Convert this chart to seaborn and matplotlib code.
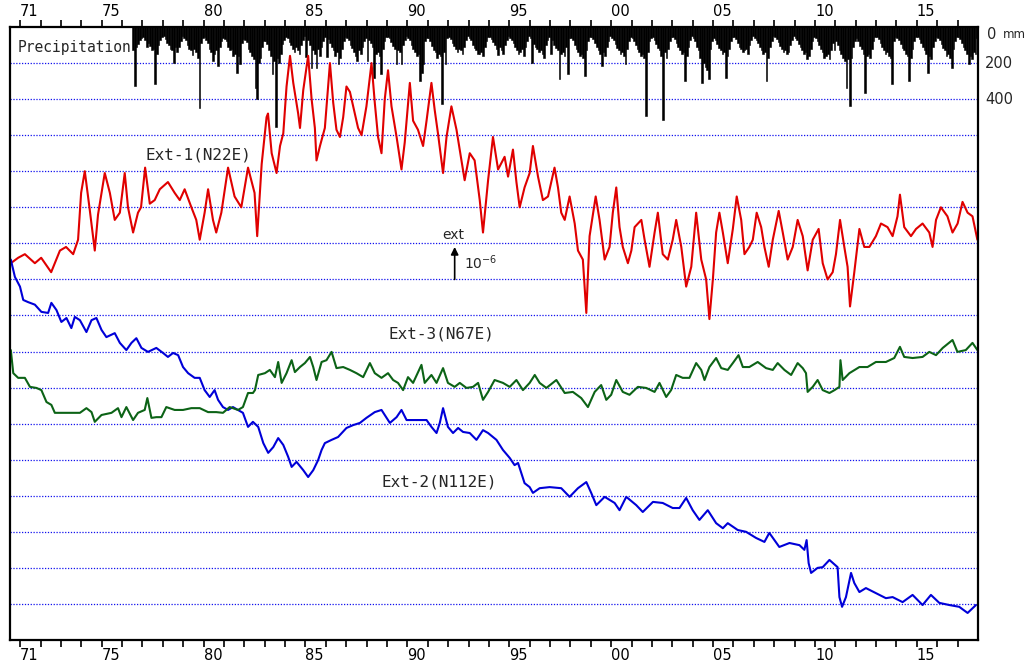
import numpy as np
import pandas as pd
import matplotlib
matplotlib.use("Agg")
import matplotlib.pyplot as plt
import seaborn as sns
from matplotlib.transforms import blended_transform_factory

# ---------------- data (strain in units of 1e-6, offset; precipitation in mm) ----------------
ext1_pts = [
    (1970.54, 10.45), (1970.90, 10.6), (1971.23, 10.7), (1971.72, 10.45), (1972.03, 10.6),
    (1972.52, 10.2), (1972.95, 10.8), (1973.25, 10.9), (1973.60, 10.7), (1973.84, 11.1),
    (1973.99, 12.4), (1974.17, 13.0), (1974.42, 11.9), (1974.66, 10.8), (1974.82, 11.8),
    (1975.15, 12.95), (1975.40, 12.4), (1975.64, 11.65), (1975.89, 11.85), (1976.13, 12.95),
    (1976.29, 12.0), (1976.54, 11.3), (1976.78, 11.85), (1976.93, 12.0), (1977.13, 13.1),
    (1977.36, 12.1), (1977.60, 12.2), (1977.85, 12.5), (1978.25, 12.7), (1978.58, 12.4),
    (1978.83, 12.2), (1979.07, 12.5), (1979.40, 12.0), (1979.64, 11.65), (1979.81, 11.1),
    (1980.05, 11.85), (1980.22, 12.5), (1980.46, 11.65), (1980.62, 11.3), (1980.87, 11.85),
    (1981.20, 13.1), (1981.52, 12.3), (1981.85, 12.0), (1982.18, 13.1), (1982.50, 12.4),
    (1982.63, 11.2), (1982.85, 13.2), (1983.09, 14.5), (1983.16, 14.6), (1983.34, 13.5),
    (1983.58, 12.95), (1983.75, 13.7), (1983.91, 14.05), (1984.07, 15.35), (1984.24, 16.2),
    (1984.40, 15.45), (1984.64, 14.6), (1984.73, 14.2), (1984.89, 15.25), (1985.13, 16.2),
    (1985.30, 15.0), (1985.46, 14.2), (1985.54, 13.3), (1985.71, 13.7), (1985.95, 14.2),
    (1986.20, 16.0), (1986.36, 14.9), (1986.52, 14.15), (1986.69, 13.95), (1986.85, 14.5),
    (1987.01, 15.35), (1987.18, 15.2), (1987.42, 14.6), (1987.58, 14.2), (1987.75, 14.0),
    (1987.99, 14.8), (1988.24, 16.0), (1988.40, 14.9), (1988.56, 13.95), (1988.73, 13.5),
    (1988.89, 15.0), (1989.05, 15.8), (1989.22, 14.8), (1989.47, 13.95), (1989.71, 13.05),
    (1989.87, 13.8), (1990.12, 15.45), (1990.28, 14.4), (1990.52, 14.15), (1990.77, 13.7),
    (1990.94, 14.4), (1991.18, 15.45), (1991.34, 14.7), (1991.50, 14.05), (1991.75, 12.95),
    (1991.92, 13.95), (1992.16, 14.8), (1992.41, 14.15), (1992.65, 13.3), (1992.81, 12.75),
    (1993.06, 13.5), (1993.30, 13.3), (1993.55, 12.2), (1993.71, 11.3), (1993.96, 12.75),
    (1994.20, 13.95), (1994.45, 13.05), (1994.77, 13.4), (1994.94, 12.85), (1995.18, 13.6),
    (1995.35, 12.7), (1995.51, 12.0), (1995.75, 12.55), (1996.00, 12.95), (1996.16, 13.7),
    (1996.41, 12.85), (1996.65, 12.2), (1996.90, 12.3), (1997.22, 13.1), (1997.39, 12.55),
    (1997.55, 11.85), (1997.72, 11.65), (1997.96, 12.3), (1998.21, 11.55), (1998.37, 10.8),
    (1998.61, 10.55), (1998.78, 9.07), (1998.94, 11.2), (1999.24, 12.3), (1999.43, 11.65),
    (1999.68, 10.55), (1999.92, 10.9), (2000.08, 11.85), (2000.25, 12.55), (2000.41, 11.45),
    (2000.57, 10.9), (2000.82, 10.45), (2000.99, 10.8), (2001.15, 11.45), (2001.48, 11.65),
    (2001.64, 11.1), (2001.88, 10.35), (2002.13, 11.3), (2002.29, 11.85), (2002.53, 10.7),
    (2002.78, 10.55), (2003.02, 11.1), (2003.19, 11.65), (2003.44, 10.9), (2003.68, 9.8),
    (2003.93, 10.35), (2004.17, 11.85), (2004.42, 10.55), (2004.66, 10.0), (2004.82, 8.9),
    (2004.99, 10.0), (2005.15, 11.3), (2005.31, 11.85), (2005.48, 11.3), (2005.72, 10.45),
    (2005.97, 11.4), (2006.16, 12.3), (2006.38, 11.65), (2006.54, 10.7), (2006.78, 10.9),
    (2006.95, 11.1), (2007.14, 11.85), (2007.36, 11.45), (2007.52, 10.9), (2007.73, 10.35),
    (2007.93, 11.1), (2008.22, 11.9), (2008.42, 11.3), (2008.66, 10.55), (2008.91, 10.9),
    (2009.15, 11.65), (2009.40, 11.2), (2009.64, 10.25), (2009.89, 11.1), (2010.18, 11.4),
    (2010.38, 10.45), (2010.62, 10.0), (2010.87, 10.2), (2011.03, 10.7), (2011.23, 11.65),
    (2011.44, 10.9), (2011.60, 10.35), (2011.72, 9.25), (2011.93, 10.2), (2012.18, 11.4),
    (2012.42, 10.9), (2012.67, 10.9), (2012.99, 11.2), (2013.24, 11.55), (2013.56, 11.45),
    (2013.81, 11.2), (2014.05, 11.75), (2014.17, 12.35), (2014.38, 11.45), (2014.71, 11.2),
    (2014.96, 11.4), (2015.28, 11.55), (2015.61, 11.3), (2015.77, 10.9), (2015.94, 11.65),
    (2016.18, 12.0), (2016.50, 11.75), (2016.75, 11.3), (2017.00, 11.55), (2017.24, 12.15),
    (2017.49, 11.85), (2017.73, 11.75), (2017.97, 11.1),
]

ext2_pts = [
    (1970.54, 10.55), (1970.74, 10.07), (1970.99, 9.8), (1971.15, 9.43), (1971.39, 9.37),
    (1971.72, 9.3), (1972.04, 9.1), (1972.37, 9.07), (1972.53, 9.35), (1972.78, 9.15),
    (1973.02, 8.82), (1973.27, 8.93), (1973.51, 8.65), (1973.68, 8.96), (1973.93, 8.87),
    (1974.25, 8.54), (1974.50, 8.87), (1974.74, 8.93), (1974.99, 8.6), (1975.23, 8.4),
    (1975.64, 8.51), (1975.89, 8.24), (1976.21, 8.04), (1976.46, 8.24), (1976.70, 8.37),
    (1976.95, 8.1), (1977.27, 7.99), (1977.68, 8.1), (1978.01, 7.96), (1978.25, 7.85),
    (1978.50, 7.96), (1978.75, 7.9), (1978.99, 7.57), (1979.24, 7.4), (1979.56, 7.27),
    (1979.81, 7.27), (1980.05, 6.93), (1980.30, 6.74), (1980.54, 6.93), (1980.71, 6.66),
    (1980.95, 6.46), (1981.20, 6.38), (1981.44, 6.46), (1981.69, 6.38), (1981.93, 6.3),
    (1982.18, 5.91), (1982.42, 6.05), (1982.68, 5.91), (1982.93, 5.46), (1983.17, 5.19),
    (1983.42, 5.35), (1983.66, 5.6), (1983.91, 5.41), (1984.15, 5.08), (1984.32, 4.8),
    (1984.56, 4.94), (1984.89, 4.71), (1985.13, 4.52), (1985.38, 4.71), (1985.62, 4.99),
    (1985.79, 5.27), (1985.95, 5.46), (1986.28, 5.55), (1986.60, 5.63), (1987.01, 5.88),
    (1987.34, 5.96), (1987.67, 6.02), (1987.99, 6.16), (1988.40, 6.32), (1988.73, 6.38),
    (1988.98, 6.16), (1989.14, 6.02), (1989.47, 6.18), (1989.71, 6.38), (1989.96, 6.1),
    (1990.28, 6.1), (1990.61, 6.1), (1990.94, 6.1), (1991.18, 5.91), (1991.43, 5.74),
    (1991.59, 6.02), (1991.75, 6.43), (1991.99, 5.91), (1992.24, 5.74), (1992.49, 5.88),
    (1992.73, 5.77), (1993.06, 5.74), (1993.39, 5.55), (1993.71, 5.82), (1993.96, 5.74),
    (1994.37, 5.55), (1994.69, 5.27), (1995.02, 5.05), (1995.26, 4.85), (1995.43, 4.91),
    (1995.59, 4.63), (1995.75, 4.35), (1996.00, 4.24), (1996.16, 4.08), (1996.49, 4.21),
    (1996.98, 4.24), (1997.55, 4.21), (1997.96, 3.97), (1998.37, 4.21), (1998.78, 4.38),
    (1999.02, 4.08), (1999.27, 3.74), (1999.68, 3.97), (2000.17, 3.8), (2000.41, 3.6),
    (2000.74, 3.97), (2001.23, 3.74), (2001.55, 3.55), (2002.05, 3.83), (2002.53, 3.8),
    (2003.02, 3.66), (2003.35, 3.66), (2003.68, 3.94), (2004.00, 3.6), (2004.33, 3.33),
    (2004.74, 3.6), (2005.15, 3.24), (2005.48, 3.1), (2005.72, 3.24), (2006.21, 3.05),
    (2006.62, 3.0), (2007.11, 2.83), (2007.52, 2.72), (2007.76, 2.97), (2008.25, 2.58),
    (2008.75, 2.69), (2009.24, 2.63), (2009.48, 2.5), (2009.59, 2.77), (2009.69, 2.13),
    (2009.81, 1.86), (2010.13, 2.0), (2010.38, 2.02), (2010.71, 2.22), (2011.11, 2.02),
    (2011.20, 1.19), (2011.33, 0.92), (2011.52, 1.19), (2011.77, 1.86), (2011.93, 1.58),
    (2012.18, 1.33), (2012.50, 1.44), (2012.99, 1.3), (2013.48, 1.16), (2013.81, 1.19),
    (2014.30, 1.05), (2014.79, 1.25), (2015.28, 0.97), (2015.69, 1.25), (2016.10, 1.03),
    (2016.59, 0.97), (2017.08, 0.92), (2017.49, 0.75), (2017.90, 0.97),
]

ext3_pts = [
    (1970.54, 8.04), (1970.66, 7.4), (1970.90, 7.27), (1971.23, 7.27), (1971.48, 7.02),
    (1971.80, 6.99), (1972.04, 6.93), (1972.29, 6.6), (1972.53, 6.52), (1972.70, 6.3),
    (1973.02, 6.3), (1973.51, 6.3), (1973.93, 6.3), (1974.25, 6.43), (1974.50, 6.32),
    (1974.66, 6.05), (1974.99, 6.24), (1975.48, 6.3), (1975.80, 6.43), (1975.97, 6.18),
    (1976.21, 6.46), (1976.54, 6.1), (1976.78, 6.3), (1977.11, 6.38), (1977.24, 6.71),
    (1977.44, 6.16), (1977.68, 6.18), (1977.93, 6.18), (1978.17, 6.46), (1978.58, 6.38),
    (1978.99, 6.38), (1979.40, 6.43), (1979.81, 6.43), (1980.22, 6.32), (1980.62, 6.32),
    (1980.95, 6.3), (1981.28, 6.46), (1981.69, 6.38), (1981.93, 6.46), (1982.18, 6.85),
    (1982.42, 6.85), (1982.52, 6.93), (1982.68, 7.35), (1983.01, 7.4), (1983.25, 7.49),
    (1983.50, 7.29), (1983.66, 7.71), (1983.83, 7.13), (1984.07, 7.4), (1984.32, 7.76),
    (1984.48, 7.43), (1984.73, 7.57), (1984.97, 7.68), (1985.22, 7.85), (1985.38, 7.57),
    (1985.54, 7.21), (1985.79, 7.71), (1986.03, 7.76), (1986.28, 7.99), (1986.52, 7.54),
    (1986.85, 7.57), (1987.18, 7.49), (1987.50, 7.4), (1987.83, 7.29), (1988.16, 7.68),
    (1988.40, 7.4), (1988.73, 7.27), (1989.05, 7.4), (1989.30, 7.21), (1989.54, 7.13),
    (1989.79, 6.93), (1990.03, 7.29), (1990.28, 7.13), (1990.69, 7.63), (1990.85, 7.13),
    (1991.18, 7.35), (1991.43, 7.13), (1991.75, 7.54), (1991.99, 7.13), (1992.32, 7.02),
    (1992.57, 7.13), (1992.90, 6.99), (1993.22, 7.02), (1993.47, 7.13), (1993.71, 6.66),
    (1993.96, 6.88), (1994.28, 7.21), (1994.69, 7.13), (1995.02, 7.02), (1995.35, 7.21),
    (1995.67, 6.93), (1996.00, 7.13), (1996.25, 7.35), (1996.49, 7.13), (1996.82, 6.99),
    (1997.31, 7.21), (1997.72, 6.85), (1998.12, 6.88), (1998.53, 6.71), (1998.86, 6.46),
    (1999.19, 6.88), (1999.51, 7.07), (1999.76, 6.66), (2000.00, 6.8), (2000.25, 7.21),
    (2000.57, 6.88), (2000.90, 6.8), (2001.31, 7.02), (2001.72, 6.99), (2002.13, 6.88),
    (2002.37, 7.13), (2002.70, 6.74), (2002.94, 6.93), (2003.19, 7.35), (2003.51, 7.27),
    (2003.84, 7.27), (2004.17, 7.68), (2004.42, 7.49), (2004.58, 7.21), (2004.82, 7.57),
    (2005.15, 7.82), (2005.40, 7.54), (2005.72, 7.49), (2005.97, 7.68), (2006.25, 7.9),
    (2006.46, 7.57), (2006.78, 7.57), (2007.19, 7.71), (2007.60, 7.54), (2007.93, 7.49),
    (2008.17, 7.68), (2008.50, 7.49), (2008.83, 7.35), (2009.15, 7.68), (2009.40, 7.54),
    (2009.56, 7.4), (2009.64, 6.88), (2009.89, 7.02), (2010.13, 7.21), (2010.38, 6.93),
    (2010.71, 6.85), (2010.96, 6.93), (2011.20, 7.02), (2011.25, 7.76), (2011.36, 7.21),
    (2011.69, 7.4), (2012.18, 7.57), (2012.58, 7.57), (2012.99, 7.71), (2013.48, 7.71),
    (2013.89, 7.82), (2014.17, 8.13), (2014.38, 7.85), (2014.79, 7.82), (2015.28, 7.85),
    (2015.61, 7.99), (2015.94, 7.9), (2016.27, 8.1), (2016.75, 8.32), (2016.99, 7.99),
    (2017.40, 8.04), (2017.73, 8.24), (2017.97, 8.04),
]

# monthly precipitation (mm), starting July 1976
precip_start = 1976.5
precip_rows = [
    [130, 327, 110, 95, 70, 60],
    [55, 70, 110, 90, 105, 130, 120, 316, 150, 100, 70, 55],
    [50, 65, 90, 100, 120, 130, 197, 110, 140, 110, 75, 50],
    [60, 70, 100, 120, 130, 158, 120, 140, 170, 451, 90, 60],
    [55, 70, 90, 120, 140, 186, 150, 130, 214, 110, 80, 60],
    [65, 80, 110, 130, 120, 160, 150, 253, 160, 203, 90, 65],
    [70, 85, 120, 140, 160, 180, 338, 400, 200, 170, 110, 80],
    [75, 95, 130, 160, 259, 190, 552, 170, 200, 150, 95, 70],
    [55, 60, 85, 100, 120, 140, 110, 130, 150, 100, 70, 50],
    [169, 70, 100, 225, 130, 150, 225, 120, 160, 110, 80, 55],
    [169, 65, 90, 110, 130, 160, 140, 203, 170, 120, 75, 55],
    [60, 70, 100, 115, 140, 160, 186, 130, 150, 110, 80, 60],
    [186, 70, 90, 110, 282, 150, 140, 160, 259, 120, 75, 55],
    [55, 60, 85, 105, 120, 203, 130, 140, 203, 100, 70, 50],
    [60, 70, 100, 120, 140, 160, 150, 299, 253, 203, 80, 60],
    [60, 75, 105, 125, 140, 170, 150, 160, 428, 140, 203, 60],
    [55, 65, 90, 105, 120, 140, 120, 130, 150, 110, 70, 50],
    [60, 70, 100, 115, 130, 150, 147, 140, 160, 110, 80, 55],
    [55, 65, 85, 100, 120, 158, 110, 130, 150, 100, 70, 50],
    [60, 70, 90, 110, 130, 150, 140, 120, 160, 110, 75, 50],
    [60, 197, 95, 110, 120, 140, 130, 150, 170, 100, 70, 55],
    [147, 70, 100, 115, 130, 287, 150, 140, 160, 110, 259, 60],
    [60, 70, 100, 120, 140, 160, 150, 170, 270, 130, 80, 55],
    [55, 65, 90, 110, 130, 150, 214, 140, 160, 110, 75, 50],
    [60, 70, 95, 115, 130, 150, 140, 160, 203, 120, 80, 55],
    [60, 75, 100, 120, 140, 160, 150, 170, 496, 140, 80, 60],
    [55, 70, 95, 115, 130, 160, 518, 140, 170, 120, 75, 55],
    [55, 65, 90, 110, 130, 150, 140, 299, 160, 110, 70, 50],
    [60, 75, 110, 130, 170, 310, 200, 220, 240, 287, 120, 80],
    [60, 70, 95, 115, 130, 150, 140, 282, 160, 120, 75, 55],
    [55, 65, 90, 110, 120, 140, 130, 120, 150, 100, 70, 50],
    [60, 70, 90, 110, 130, 150, 140, 299, 170, 110, 75, 50],
    [55, 65, 85, 105, 120, 140, 130, 150, 140, 100, 70, 50],
    [60, 70, 95, 110, 130, 150, 140, 175, 160, 120, 75, 55],
    [60, 75, 100, 120, 140, 170, 160, 150, 180, 130, 90, 130],
    [80, 100, 130, 150, 170, 190, 338, 180, 440, 170, 110, 80],
    [60, 75, 105, 120, 150, 366, 160, 150, 170, 120, 80, 55],
    [55, 65, 90, 110, 130, 150, 140, 160, 170, 316, 80, 55],
    [60, 70, 95, 115, 130, 150, 160, 299, 170, 120, 75, 55],
    [55, 65, 90, 110, 130, 150, 253, 160, 180, 110, 75, 55],
    [60, 70, 95, 115, 130, 160, 150, 170, 225, 120, 80, 55],
    [55, 65, 90, 110, 130, 150, 203, 160, 180, 140, 147, 60],
]

year_ticks = list(range(1971, 2018))
tick_label_map = {1971: "71", 1975: "75", 1980: "80", 1985: "85", 1990: "90",
                  1995: "95", 2000: "00", 2005: "05", 2010: "10", 2015: "15"}
grid_levels = list(range(1, 17))
precip_scale_labels = [(17, "0"), (16, "200"), (15, "400")]
mm_per_unit = 200.0

# ---------------- figure ----------------
sns.set_theme(style="white")
plt.rcParams["font.family"] = ["DejaVu Sans"]

fig = plt.figure(figsize=(10.25, 6.63), dpi=100)
ax = fig.add_axes([10 / 1025, 23 / 663, 968 / 1025, 613 / 663])
ax.set_facecolor("white")
ax.set_xlim(1970.5, 2018.0)
ax.set_ylim(0, 17)

for lev in grid_levels:
    ax.axhline(lev, color="#1010ee", lw=0.9, ls=(0, (1, 1.3)), zorder=1)

# precipitation bars hanging from the top
precip = np.concatenate([np.array(r, dtype=float) for r in precip_rows])
px = precip_start + np.arange(len(precip)) / 12.0
ax.bar(px, -precip / mm_per_unit, bottom=17, width=1 / 12, align="edge",
       color="black", edgecolor="black", linewidth=0.4, zorder=2)

series = [("Ext-1(N22E)", ext1_pts, "#e00000"),
          ("Ext-2(N112E)", ext2_pts, "#0000d8"),
          ("Ext-3(N67E)", ext3_pts, "#0c6316")]
for name, pts, col in series:
    df = pd.DataFrame(pts, columns=["year", "strain"])
    sns.lineplot(data=df, x="year", y="strain", ax=ax, color=col, lw=1.5,
                 estimator=None, sort=False, zorder=3)

ax.set_xlabel("")
ax.set_ylabel("")
ax.set_yticks([])
ax.set_xticks(year_ticks)
ax.set_xticklabels([tick_label_map.get(y, "") for y in year_ticks])
ax.tick_params(axis="x", which="major", top=True, bottom=True, labeltop=True,
               labelbottom=True, direction="out", length=5, width=1.2,
               labelsize=10.5, pad=1, colors="black")
for t in ax.xaxis.get_major_ticks():
    t.label1.set_horizontalalignment("left")
    t.label2.set_horizontalalignment("left")

for sp in ax.spines.values():
    sp.set_visible(True)
    sp.set_color("black")
    sp.set_linewidth(1.6)
    sp.set_zorder(5)

mono = ["DejaVu Sans Mono"]
ax.text(1970.89, 16.42, "Precipitation", ha="left", va="center",
        fontsize=10.5, family=mono, zorder=6)
ax.text(1979.76, 13.44, "Ext-1(N22E)", ha="center", va="center",
        fontsize=11.5, family=mono, zorder=6)
ax.text(1991.66, 8.49, "Ext-3(N67E)", ha="center", va="center",
        fontsize=11.5, family=mono, zorder=6)
ax.text(1991.54, 4.39, "Ext-2(N112E)", ha="center", va="center",
        fontsize=11.5, family=mono, zorder=6)

# strain scale arrow
ax.text(1992.24, 11.23, "ext", ha="center", va="center", fontsize=10)
ax.annotate("", xy=(1992.32, 10.9), xytext=(1992.32, 10.0),
            arrowprops=dict(arrowstyle="-|>", color="black", lw=1.2,
                            mutation_scale=11, shrinkA=0, shrinkB=0))
ax.text(1992.78, 10.45, r"10$^{-6}$", ha="left", va="center", fontsize=10)

# precipitation scale on the right
trans = blended_transform_factory(ax.transAxes, ax.transData)
for val, lab in precip_scale_labels:
    if lab == "0":
        ax.text(1.0093, val, lab, transform=trans, ha="left", va="top", fontsize=10.5)
        ax.text(1.0255, val - 0.02, "mm", transform=trans, ha="left", va="top", fontsize=8.5)
    else:
        ax.text(1.0072, val, lab, transform=trans, ha="left", va="center", fontsize=10.5)

fig.savefig("out.png", dpi=100, facecolor="white")
